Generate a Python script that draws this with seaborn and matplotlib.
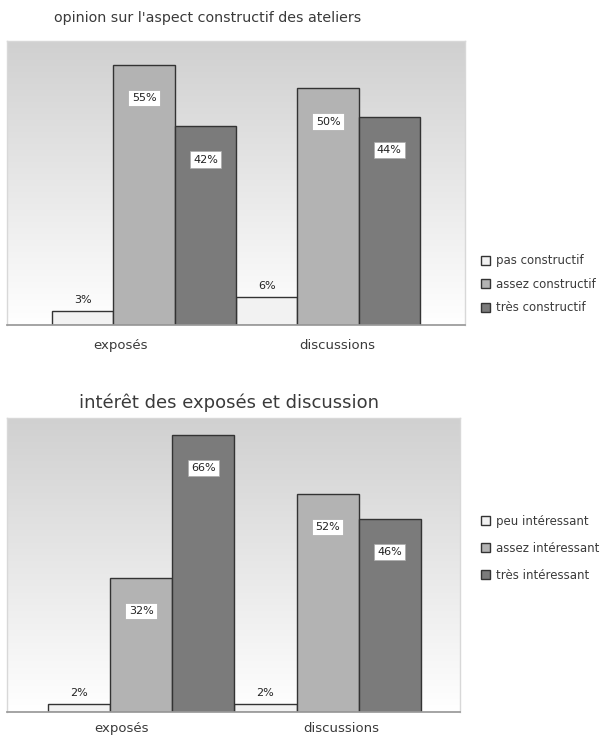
import matplotlib.pyplot as plt
import matplotlib.transforms as mtrans
import seaborn as sns
import pandas as pd
import numpy as np
from matplotlib.colors import LinearSegmentedColormap

sns.set_theme(style="white")
plt.rcParams['font.family'] = ['DejaVu Sans']

# data
categories = ["exposés", "discussions"]

top_title = "opinion sur l'aspect constructif des ateliers"
top_levels = ["pas constructif", "assez constructif", "très constructif"]
top_values = {"pas constructif": [3, 6],
              "assez constructif": [55, 50],
              "très constructif": [42, 44]}

bot_title = "intérêt des exposés et discussion"
bot_levels = ["peu intéressant", "assez intéressant", "très intéressant"]
bot_values = {"peu intéressant": [2, 2],
              "assez intéressant": [32, 52],
              "très intéressant": [66, 46]}

colors = ["#f2f2f2", "#b3b3b3", "#7b7b7b"]
txt = "#3a3a3a"


def long_df(values, levels):
    rows = []
    for lev in levels:
        for cat, v in zip(categories, values[lev]):
            rows.append({"cat": cat, "niveau": lev, "pct": v})
    return pd.DataFrame(rows)


def panel(fig, rect, values, levels, ymax, xlim, leg_anchor, leg_space,
          lab_shift, pad):
    ax = fig.add_axes(rect)
    df = long_df(values, levels)
    # gradient background
    grad = np.linspace(0, 1, 256).reshape(-1, 1)
    ax.imshow(grad, extent=[xlim[0], xlim[1], 0, ymax], aspect="auto",
              cmap=LinearSegmentedColormap.from_list("bg", ["#d0d0d0", "#ffffff"]),
              origin="upper", zorder=0)
    sns.barplot(data=df, x="cat", y="pct", hue="niveau", hue_order=levels,
                palette=colors, width=1.0, edgecolor="#333333", linewidth=1.0,
                saturation=1, ax=ax, zorder=2)
    ax.set_xlim(*xlim)
    ax.set_ylim(0, ymax)
    ax.set_xlabel("")
    ax.set_ylabel("")
    ax.set_yticks([])
    ax.tick_params(axis="x", length=0, labelsize=9.5, colors=txt, pad=pad)
    for lab, dx in zip(ax.get_xticklabels(), lab_shift):
        lab.set_transform(lab.get_transform() +
                          mtrans.ScaledTranslation(dx / 100, 0, fig.dpi_scale_trans))
    for s in ["top", "right", "left"]:
        ax.spines[s].set_color("#d8d8d8")
        ax.spines[s].set_linewidth(1.0)
    ax.spines["bottom"].set_color("#999999")

    # value labels
    for cont in ax.containers:
        for bar in cont:
            h = bar.get_height()
            xc = bar.get_x() + bar.get_width() / 2
            if h > 15:
                ax.annotate(f"{h:.0f}%", (xc, h), xytext=(0, -24),
                            textcoords="offset points", ha="center", va="center",
                            fontsize=8, color="#222222", zorder=5,
                            bbox=dict(boxstyle="square,pad=0.3", fc="white",
                                      ec="#aaaaaa", lw=0.5))
            else:
                ax.annotate(f"{h:.0f}%", (xc, h), xytext=(0, 8),
                            textcoords="offset points", ha="center", va="center",
                            fontsize=8, color="#222222", zorder=5)

    handles, labels = ax.get_legend_handles_labels()
    ax.legend(handles, labels, loc="upper left", bbox_to_anchor=leg_anchor,
              bbox_transform=fig.transFigure, frameon=False, fontsize=8.5,
              handlelength=0.8, handleheight=0.8, labelspacing=leg_space,
              handletextpad=0.5, labelcolor=txt, borderaxespad=0)
    return ax


fig = plt.figure(figsize=(6.02, 7.38), dpi=100)
panel(fig, [0.0116, 0.5596, 0.761, 0.3848], top_values, top_levels,
      60, (-0.745, 1.745), (0.791, 0.662), 0.9, (-24, 9), 10)
panel(fig, [0.0116, 0.0352, 0.7525, 0.3984], bot_values, bot_levels,
      70, (-0.72, 1.71), (0.791, 0.309), 1.2, (-20, 14), 7)

fig.text(208 / 602, 1 - 18 / 738, top_title, ha="center", va="center",
         fontsize=10.3, color=txt)
fig.text(229 / 602, 1 - 403 / 738, bot_title, ha="center", va="center",
         fontsize=13, color=txt)

fig.savefig("out.png", dpi=100)
